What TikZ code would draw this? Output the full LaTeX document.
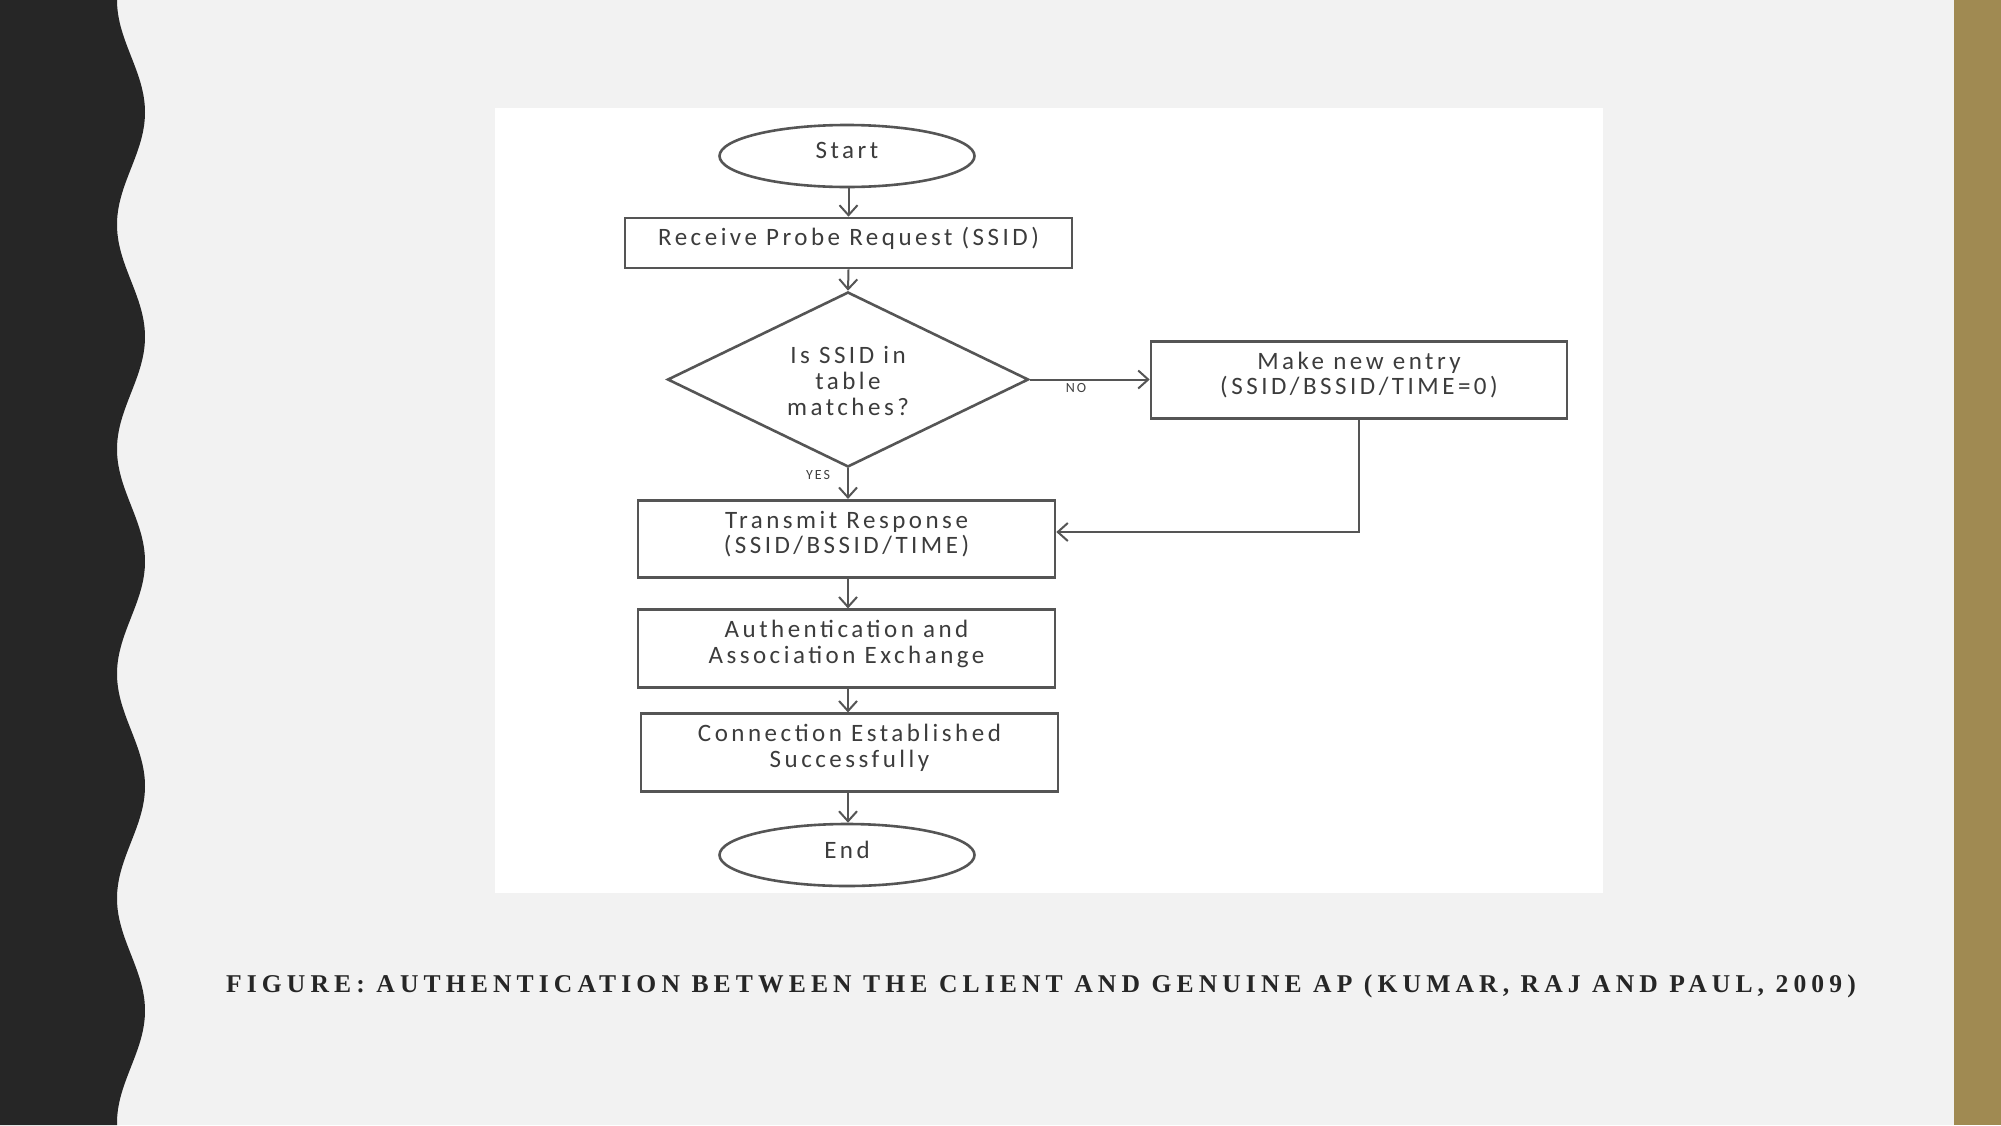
\documentclass[tikz,border=0pt]{standalone}
\usepackage{fontspec}
\usetikzlibrary{shapes.geometric,arrows.meta}
\newfontfamily\flowfont[LetterSpace=14]{Carlito}
\newfontfamily\capfont[LetterSpace=20]{Liberation Serif}
\definecolor{bgc}{HTML}{F2F2F2}
\definecolor{darkc}{HTML}{262626}
\definecolor{goldc}{RGB}{160,138,82}
\definecolor{linec}{HTML}{555555}
\definecolor{txtc}{HTML}{3C3C3C}
\begin{document}
\begin{tikzpicture}[x=0.5pt,y=-0.5pt,
  base/.style={draw=linec, line width=1.3pt, text=txtc, font=\flowfont\fontsize{12.5}{12.8}\selectfont, align=center, inner sep=0pt, text depth=6.5pt},
  boxn/.style={base, rectangle},
  widebox/.style={boxn, minimum width=208.5pt, minimum height=38.75pt},
  term/.style={base, ellipse, minimum width=127.5pt, minimum height=31pt, text depth=5.5pt},
  dec/.style={base, diamond, minimum width=180.5pt, minimum height=87.5pt},
  txt/.style={text=txtc, font=\flowfont\fontsize{12.5}{12.8}\selectfont, align=center, inner sep=0pt},
  arr/.style={draw=linec, line width=1pt, -{Straight Barb[length=5pt,width=9pt,line width=1pt]}},
  lab/.style={text=darkgray, font=\flowfont\fontsize{7}{8}\selectfont, inner sep=0pt}]
\useasboundingbox (0,0) rectangle (2001,1125);
\fill[bgc] (0,0) rectangle (2001,1125);
% left wavy band
\fill[darkc] (0,0) -- plot[domain=0:1125, samples=300, variable=\t] ({131-14*cos(1.60285*\t)}, \t) -- (0,1125) -- cycle;
% right gold bar
\fill[goldc] (1954,0) rectangle (2001,1125);
% white panel
\fill[white] (495,108) rectangle (1603,893);

% nodes
\node[term] (start) at (847,156) {Start};
\node[boxn, minimum width=223.5pt, minimum height=25pt] (recv) at (848.5,243) {Receive Probe Request (SSID)};
\node[dec] (dec) at (848,379.5) {};
\node[txt] (dectxt) at (848,381) {Is SSID in\\table\\matches?};
\node[boxn, minimum width=208pt, minimum height=38.5pt] (make) at (1359,380) {Make new entry\\(SSID/BSSID/TIME=0)};
\node[widebox] (trans) at (846.5,539) {Transmit Response\\(SSID/BSSID/TIME)};
\node[widebox] (auth) at (846.5,648.5) {Authentication and\\Association Exchange};
\node[widebox] (conn) at (849.5,752.5) {Connection Established\\Successfully};
\node[term] (end) at (847,855) {End};

% connectors
\draw[arr] (recv.north |- start.south) -- (recv.north);
\draw[arr] (recv.south) -- (dec.north);
\draw[arr] (dec.east) -- (dec.east -| make.west);
\draw[arr] (dec.south) -- (dec.south |- trans.north);
\draw[arr] (make.south) |- ([yshift=3.5pt]trans.east);
\draw[arr] (dec.south |- trans.south) -- (dec.south |- auth.north);
\draw[arr] (dec.south |- auth.south) -- (dec.south |- conn.north);
\draw[arr] (dec.south |- conn.south) -- (dec.south |- end.north);

% labels
\node[lab] (no) at (1076,388) {NO};
\node[lab] (yes) at (818,475) {YES};

% caption
\node[text=darkc, font=\capfont\bfseries\fontsize{12.8}{15}\selectfont, inner sep=0pt] (cap) at (1041,986)
  {FIGURE: AUTHENTICATION BETWEEN THE CLIENT AND GENUINE AP (KUMAR, RAJ AND PAUL, 2009)};
\end{tikzpicture}
\end{document}
